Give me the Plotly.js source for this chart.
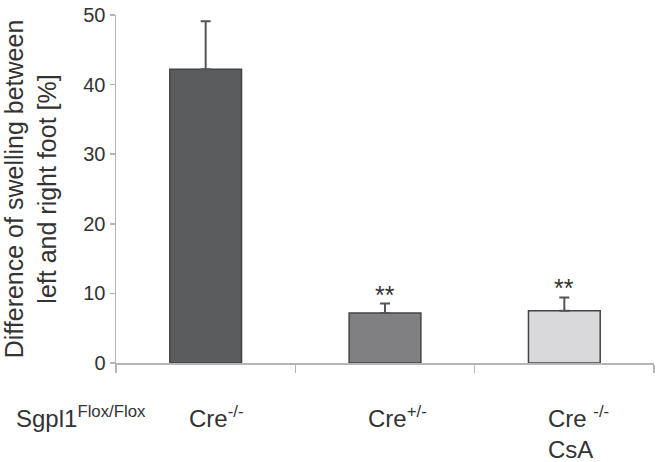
<!DOCTYPE html>
<html>
<head>
<meta charset="utf-8">
<script src="https://cdn.plot.ly/plotly-3.0.1.min.js"></script>
<style>html,body{margin:0;padding:0;background:#fff;}#chart{width:662px;height:462px;}</style>
</head>
<body>
<div id="chart"></div>
<script>
// Data
var categories = ['Cre-/-', 'Cre+/-', 'Cre-/- CsA'];
var meanValues = [42.2, 7.2, 7.5];
var errorUp = [6.9, 1.35, 1.9];
var barColors = ['#5b5c5e', '#808083', '#d9d9db'];
var starLabels = ['', '**', '**'];
var starY = [0, 9.8, 10.8];
var tickLabels = ['Cre<sup>-/-</sup>', 'Cre<sup>+/-</sup>', 'Cre <sup>-/-</sup><br>CsA'];
var groupLabel = 'Sgpl1<sup>Flox/Flox</sup>';
var yTitleLines = ['Difference of swelling between', 'left and right foot [%]'];

var FONT = 'Liberation Sans, Arial, sans-serif';
var TXT = '#333333';

var trace = {
  type: 'bar',
  x: categories,
  y: meanValues,
  width: 0.4,
  marker: {color: barColors, line: {color: '#444444', width: 1.5}},
  error_y: {
    type: 'data', symmetric: false,
    array: errorUp,
    arrayminus: meanValues.map(function(){return 0;}),
    color: '#555555', thickness: 2, width: 5
  },
  hoverinfo: 'none'
};

var annotations = [];
// significance stars
starLabels.forEach(function(s, i){
  if (!s) return;
  annotations.push({x: i, y: starY[i], xref: 'x', yref: 'y', text: s, showarrow: false,
    font: {family: FONT, size: 25, color: TXT}, xanchor: 'center', yanchor: 'middle'});
});
// category labels below axis
tickLabels.forEach(function(t, i){
  annotations.push({x: i - 0.105, y: -0.105, xref: 'x', yref: 'paper', text: t, showarrow: false,
    align: 'left', font: {family: FONT, size: 24, color: TXT}, xanchor: 'left', yanchor: 'top'});
});
annotations.push({x: -0.19, y: -0.105, xref: 'paper', yref: 'paper', text: groupLabel, showarrow: false,
  align: 'left', font: {family: FONT, size: 24, color: TXT}, xanchor: 'left', yanchor: 'top'});

var layout = {
  width: 662, height: 462,
  margin: {l: 116, r: 8, t: 15, b: 99},
  paper_bgcolor: '#ffffff', plot_bgcolor: '#ffffff',
  showlegend: false,
  font: {family: FONT, color: TXT},
  xaxis: {
    type: 'category', tickson: 'boundaries', ticks: 'outside', ticklen: 8, tickwidth: 1.5,
    tickcolor: '#b5b5b5', showticklabels: false, showline: true, linecolor: '#b5b5b5',
    linewidth: 1.5, showgrid: false, zeroline: false, range: [-0.5, 2.5], fixedrange: true
  },
  yaxis: {
    range: [0, 50], tickvals: [0, 10, 20, 30, 40, 50], ticks: 'outside', ticklen: 5,
    tickwidth: 1.5, tickcolor: '#b5b5b5', showline: true, linecolor: '#b5b5b5', linewidth: 1.5,
    showgrid: false, zeroline: false, tickfont: {family: FONT, size: 20, color: TXT},
    title: {text: yTitleLines.join('<br>'), font: {family: FONT, size: 25, color: TXT}, standoff: 20},
    automargin: false, fixedrange: true
  },
  annotations: annotations
};

Plotly.newPlot('chart', [trace], layout, {displayModeBar: false, staticPlot: true});
</script>
</body>
</html>
